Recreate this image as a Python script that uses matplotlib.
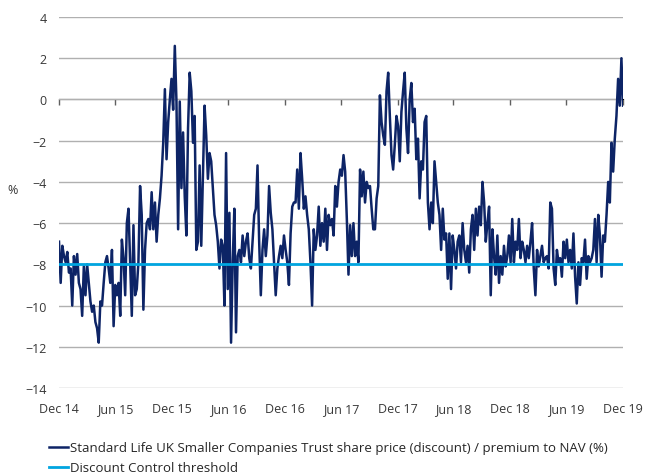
import matplotlib
matplotlib.use("Agg")
import matplotlib.pyplot as plt
import pandas as pd

plt.rcParams["font.family"] = ["Open Sans", "DejaVu Sans"]

# share price (discount) / premium to NAV, % left to right
premium = [
    # Dec 14 - Jun 15
    -6.9, -8.9, -7.1, -7.6, -7.9, -7.4, -8.4, -8.2, -10.0, -7.6, -8.5, -7.5,
    -8.9, -9.2, -10.5, -8.1, -9.5, -8.0, -8.9, -9.8, -10.3, -10.0, -10.8, -11.1,
    -11.8, -9.8, -10.0, -8.9, -7.9, -7.6, -8.2, -8.9, -7.3, -11.0, -9.0, -9.5,
    -8.9, -10.5, -6.8, -7.7, -9.5, -6.0, -5.3, -7.9, -10.5, -6.1, -9.5,
    # Jun 15 - Mar 16
    -9.2, -7.9, -4.2, -5.6, -10.2, -7.3, -6.0, -5.8, -6.3, -4.5, -6.3, -5.0,
    -6.9, -5.6, -4.8, -3.7, -2.1, 0.5, -2.9, -1.1, 0.0, 1.0, -0.5, 2.6,
    -0.1, -6.3, -0.1, -4.3, -1.6, -4.7, -6.6, -1.4, 1.3, 0.4, -2.1, -0.8,
    -7.3, -6.9, -3.2, -7.1, -3.7, -0.3, -1.75, -3.85, -2.6, -3.0, -4.3, -5.6,
    # Mar 16 - Nov 16
    -6.1, -6.9, -8.2, -6.8, -7.1, -10.0, -2.6, -9.2, -5.5, -11.8, -7.9, -5.3,
    -11.3, -7.6, -7.3, -7.9, -6.6, -7.6, -6.9, -6.5, -7.7, -8.2, -6.9, -5.6,
    -5.3, -3.2, -6.9, -9.5, -7.3, -6.3, -7.6, -6.6, -4.2, -5.5, -6.3, -7.9,
    -9.5, -8.2, -7.6, -7.1, -7.7, -6.6, -7.3, -7.9, -9.0, -6.5, -5.2, -5.0,
    # Nov 16 - Jul 17
    -5.0, -3.4, -5.3, -2.6, -3.85, -5.3, -4.7, -5.6, -6.3, -7.9, -10.0, -6.3,
    -7.3, -6.6, -5.2, -7.1, -6.0, -6.9, -5.3, -7.3, -5.6, -6.1, -5.8, -6.6,
    -4.2, -5.2, -4.0, -3.4, -3.7, -2.7, -3.5, -5.8, -8.5, -6.1, -7.6, -6.0,
    -7.6, -6.9, -7.9, -3.4, -4.7, -3.5, -5.0, -4.0, -4.3, -4.2, -5.3, -6.3,
    # Jul 17 - Apr 18
    -6.3, -4.8, -4.2, 0.2, -1.1, -1.75, -2.2, 0.4, 1.3, -0.8, -2.7, -3.4,
    -2.2, -0.8, -1.3, -3.0, -0.6, 0.4, 1.3, -1.4, -2.6, 0.0, 0.8, -1.1,
    -0.45, -2.9, -1.9, -4.8, -3.0, -3.4, -1.1, -0.8, -5.0, -6.3, -5.0, -6.0,
    -3.0, -4.0, -5.0, -5.6, -7.3, -5.3, -6.8, -6.5, -8.7, -6.5, -9.2, -6.6,
    # Apr 18 - Dec 18
    -7.3, -8.2, -6.9, -6.6, -7.9, -6.0, -7.3, -7.9, -7.1, -8.4, -6.3, -5.6,
    -7.3, -5.3, -6.6, -5.2, -6.1, -4.0, -5.0, -6.9, -6.0, -5.2, -9.5, -6.3,
    -7.6, -8.5, -6.6, -8.9, -7.6, -8.5, -7.1, -8.1, -7.6, -6.6, -7.9, -5.8,
    -7.9, -6.9, -7.3, -5.8, -7.7, -6.9, -7.3, -7.9, -7.1, -7.7, -6.9, -6.0,
    # Dec 18 - Dec 19
    -8.2, -9.5, -7.3, -8.1, -7.6, -7.1, -7.9, -7.7, -7.6, -8.2, -5.0, -5.3,
    -8.2, -9.0, -7.3, -7.9, -7.7, -8.6, -6.9, -7.7, -6.8, -7.9, -7.3, -8.2,
    -6.5, -8.6, -9.9, -7.9, -9.0, -7.7, -7.9, -6.8, -8.7, -7.6, -7.9, -7.7,
    -7.3, -5.8, -7.9, -5.6, -6.6, -8.6, -6.6, -6.9, -5.6, -4.0, -5.0, -2.1,
    -3.5, -1.9, -0.8, 1.0, -0.3, 2.0, -0.3,
]
threshold = -8.0

tick_labels = ["Dec 14", "Jun 15", "Dec 15", "Jun 16", "Dec 16", "Jun 17",
               "Dec 17", "Jun 18", "Dec 18", "Jun 19", "Dec 19"]
tick_dates = pd.to_datetime(["2014-12-31", "2015-06-30", "2015-12-31", "2016-06-30",
                             "2016-12-31", "2017-06-30", "2017-12-31", "2018-06-30",
                             "2018-12-31", "2019-06-30", "2019-12-31"])
dates = pd.date_range(tick_dates[0], tick_dates[-1], periods=len(premium))

NAVY = "#0d2466"
CYAN = "#00a5e0"
TEXT = "#383838"

fig = plt.figure(figsize=(6.45, 4.77), dpi=100)
ax = fig.add_axes([0.0915, 0.1845, 0.8745, 0.7777])

ax.set_ylim(-14, 4)
ax.set_yticks(range(-14, 5, 2))
ax.set_xlim(tick_dates[0], tick_dates[-1])
ax.set_xticks(tick_dates)
ax.set_xticklabels(tick_labels)
ax.grid(axis="y", color="#b0b0b0", linewidth=1.0)
ax.set_axisbelow(True)
for side in ["top", "right", "left", "bottom"]:
    ax.spines[side].set_visible(False)
ax.tick_params(axis="both", length=0, labelsize=9, colors=TEXT)
ax.tick_params(axis="y", pad=9)
ax.tick_params(axis="x", pad=10)

# zero line with small ticks pointing down, like an axis crossing at 0
zero_axis = ax.secondary_xaxis(14 / 18)
zero_axis.set_xticks(tick_dates)
zero_axis.set_xticklabels([])
zero_axis.tick_params(direction="out", length=4, width=1, color="#606060")
zero_axis.spines["bottom"].set_color("#606060")
zero_axis.spines["bottom"].set_linewidth(1.2)
zero_axis.xaxis.set_ticks_position("bottom")

line_main, = ax.plot(dates, premium, color=NAVY, linewidth=1.8, zorder=3)
line_thr = ax.axhline(threshold, color=CYAN, linewidth=2.0, zorder=4)

fig.text(0.012, 0.6, "%", fontsize=9, color=TEXT, va="center", ha="left")

fig.legend(
    [line_main, line_thr],
    ["Standard Life UK Smaller Companies Trust share price (discount) / premium to NAV (%)",
     "Discount Control threshold"],
    loc="upper left",
    bbox_to_anchor=(0.058, 0.098),
    frameon=False,
    fontsize=9.5,
    handlelength=1.45,
    handletextpad=0.15,
    labelspacing=0.55,
    labelcolor="#262626",
)

fig.savefig("out.png", dpi=100)
